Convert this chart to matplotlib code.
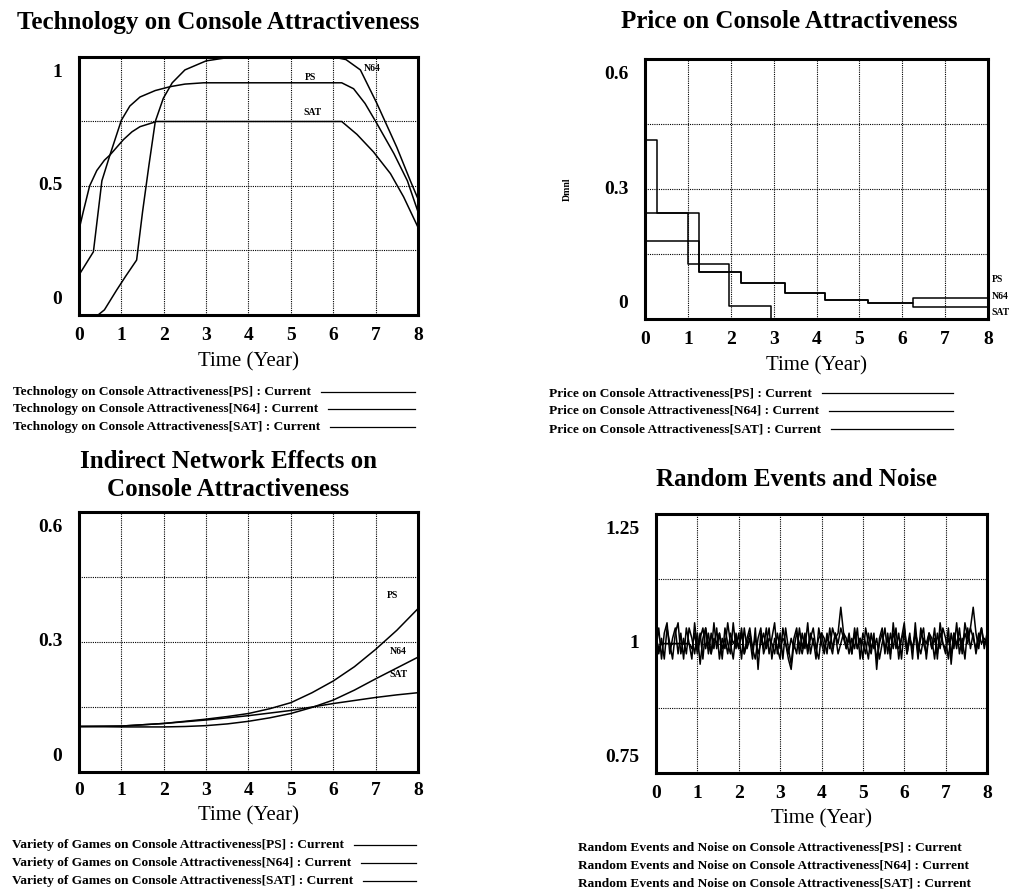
import matplotlib
matplotlib.use("Agg")
import matplotlib.pyplot as plt
from matplotlib.lines import Line2D
import numpy as np

# ---- data ------------------------------------------------------------------
series_names = ["PS", "N64", "SAT"]
years = list(range(9))

# Technology on Console Attractiveness
tech_ps_t = [0, 0.34, 0.54, 0.73, 1.0, 1.2, 1.44, 1.8, 2.15, 2.5, 2.94, 6.2, 6.48, 6.75, 7.03, 7.43, 7.75, 8.0]
tech_ps_v = [0.155, 0.245, 0.52, 0.62, 0.755, 0.81, 0.845, 0.87, 0.885, 0.895, 0.9, 0.9, 0.877, 0.82, 0.742, 0.626, 0.52, 0.40]
tech_n64_t = [0, 0.45, 0.6, 0.89, 1.1, 1.36, 1.5, 1.65, 1.8, 1.99, 2.2, 2.5, 3.0, 3.6, 6.0, 6.3, 6.64, 7.03, 7.5, 7.82, 8.0]
tech_n64_v = [0, 0, 0.02, 0.097, 0.15, 0.213, 0.40, 0.58, 0.75, 0.84, 0.9, 0.95, 0.985, 1.0, 1.0, 0.99, 0.95, 0.82, 0.65, 0.52, 0.45]
tech_sat_t = [0, 0.1, 0.25, 0.42, 0.6, 0.73, 1.05, 1.25, 1.44, 1.83, 6.2, 6.56, 6.95, 7.35, 7.66, 8.0]
tech_sat_v = [0.33, 0.4, 0.5, 0.56, 0.6, 0.62, 0.68, 0.71, 0.73, 0.75, 0.75, 0.70, 0.632, 0.548, 0.458, 0.34]

# Price on Console Attractiveness (step series)
price_ps_t = [0, 1.0, 1.26, 2.23, 3.26, 4.2, 5.2, 6.26, 8]
price_ps_v = [0.245, 0.18, 0.109, 0.082, 0.061, 0.044, 0.036, 0.048, 0.048]
price_n64_t = [0, 0.28, 1.26, 2.23, 3.26, 4.2, 5.2, 6.26, 8]
price_n64_v = [0.414, 0.245, 0.109, 0.082, 0.061, 0.044, 0.036, 0.028, 0.028]
price_sat_t = [0, 1.0, 1.95, 2.95, 8]
price_sat_v = [0.18, 0.128, 0.03, 0.0, 0.0]

# Indirect Network Effects on Console Attractiveness
net_t = [0, 1, 2, 2.5, 3, 3.5, 4, 4.5, 5, 5.5, 6, 6.5, 7, 7.5, 8]
net_ps = [0.105, 0.106, 0.112, 0.117, 0.122, 0.128, 0.135, 0.146, 0.160, 0.183, 0.210, 0.243, 0.283, 0.327, 0.377]
net_n64 = [0.105, 0.104, 0.104, 0.105, 0.107, 0.111, 0.117, 0.125, 0.135, 0.149, 0.166, 0.189, 0.215, 0.240, 0.265]
net_sat = [0.105, 0.106, 0.112, 0.116, 0.120, 0.125, 0.130, 0.136, 0.142, 0.150, 0.158, 0.165, 0.172, 0.178, 0.183]

# Random Events and Noise (one value every 1/15 year)
noise_t = np.linspace(0, 8, 121)
noise_ps = [0.99, 1.03, 0.97, 1.02, 1.04, 0.98, 1.01, 1.03, 0.98, 1.02,
            0.97, 1.03, 1.00, 0.97, 1.04, 0.99, 1.02, 0.97, 1.03, 1.00,
            0.98, 1.04, 0.99, 1.02, 0.97, 1.03, 1.00, 0.98, 1.04, 0.99,
            1.02, 0.97, 1.03, 0.99, 1.01, 0.97, 1.03, 0.95, 1.02, 0.99,
            1.03, 0.98, 1.01, 1.04, 0.98, 1.02, 0.97, 1.03, 0.99, 0.96,
            1.01, 1.03, 0.98, 1.02, 0.99, 1.04, 0.98, 1.01, 0.97, 1.03,
            1.00, 0.98, 1.02, 0.99, 1.03, 1.01, 1.02, 1.07, 1.02, 0.99,
            1.02, 0.98, 1.03, 0.99, 1.01, 0.97, 1.03, 1.00, 0.98, 1.02,
            0.95, 1.01, 1.03, 0.98, 1.02, 0.97, 1.04, 0.99, 1.02, 0.97,
            1.03, 0.99, 1.02, 0.97, 1.04, 0.98, 1.01, 1.03, 0.97, 1.02,
            0.99, 1.03, 0.97, 1.04, 1.00, 0.98, 1.03, 0.96, 1.02, 0.99,
            1.03, 0.98, 1.04, 1.01, 1.03, 1.07, 1.02, 0.99, 1.03, 1.00,
            1.01]
noise_n64 = [1.02, 0.98, 1.01, 0.97, 1.03, 1.00, 0.97, 1.02, 1.04, 0.98,
             1.01, 0.98, 1.03, 1.01, 0.98, 1.02, 0.96, 1.01, 1.03, 0.98,
             1.02, 0.99, 1.03, 0.97, 1.01, 0.99, 1.04, 1.00, 0.97, 1.02,
             0.99, 1.03, 0.98, 1.01, 1.03, 0.99, 0.97, 1.01, 1.03, 0.98,
             1.00, 1.03, 0.97, 1.01, 0.99, 0.97, 1.03, 1.00, 0.97, 0.95,
             1.00, 0.98, 1.03, 0.99, 1.02, 0.98, 1.01, 1.03, 0.99, 0.97,
             1.02, 1.01, 0.98, 1.03, 0.99, 1.02, 0.98, 1.00, 1.02, 1.01,
             0.98, 1.01, 0.99, 1.03, 0.97, 1.02, 1.00, 0.97, 1.02, 0.99,
             1.01, 0.97, 1.00, 1.03, 0.98, 1.02, 0.99, 1.03, 0.97, 1.01,
             1.04, 0.98, 1.01, 0.99, 1.02, 0.97, 1.03, 1.00, 0.98, 1.02,
             1.01, 0.97, 1.02, 0.99, 1.03, 1.01, 0.97, 1.02, 0.99, 1.04,
             0.98, 1.01, 0.97, 1.03, 0.99, 1.02, 0.98, 1.01, 1.03, 0.99,
             1.02]
noise_sat = [1.01, 0.99, 1.00, 1.00, 1.00, 1.00, 1.00, 1.00, 1.00, 1.00,
             1.00, 1.00, 1.00, 0.99, 1.02, 0.98, 1.01, 1.03, 0.99, 1.02,
             0.98, 1.01, 1.00, 1.02, 0.99, 1.01, 0.98, 1.02, 1.00, 1.01,
             0.99, 1.02, 0.98, 1.00, 1.02, 0.99, 1.01, 0.98, 1.00, 1.02,
             0.99, 1.01, 1.00, 0.98, 1.02, 0.99, 1.01, 1.00, 0.98, 1.01,
             0.99, 1.02, 1.00, 0.98, 1.01, 0.99, 1.02, 1.00, 0.99, 1.01,
             1.02, 0.99, 1.01, 1.00, 0.98, 1.02, 1.00, 1.03, 1.01, 0.99,
             1.01, 0.98, 1.02, 0.99, 1.01, 1.00, 0.98, 1.02, 0.99, 1.01,
             0.97, 1.00, 1.02, 0.99, 1.01, 0.98, 1.02, 1.00, 0.99, 1.01,
             1.02, 0.98, 1.01, 0.99, 1.02, 1.00, 0.98, 1.01, 1.00, 1.02,
             0.99, 1.01, 0.98, 1.02, 1.00, 0.99, 1.01, 0.98, 1.02, 1.00,
             1.01, 0.99, 1.02, 1.00, 1.03, 1.01, 0.99, 1.02, 1.00, 1.01,
             1.00]

tech_legend = ["Technology on Console Attractiveness[%s] : Current" % s for s in series_names]
price_legend = ["Price on Console Attractiveness[%s] : Current" % s for s in series_names]
variety_legend = ["Variety of Games on Console Attractiveness[%s] : Current" % s for s in series_names]
random_legend = ["Random Events and Noise on Console Attractiveness[%s] : Current" % s for s in series_names]

# ---- figure ----------------------------------------------------------------
W, H = 1016, 890
plt.rcParams["font.family"] = ["Liberation Serif", "DejaVu Serif"]
fig = plt.figure(figsize=(W / 100, H / 100), dpi=100)
renderer = fig.canvas.get_renderer()


def fx(px):
    return px / W


def fy(py):
    return 1 - py / H


def panel(l, t, r, b, ymin, ymax, ylabels, xpad, xlabel_y):
    ax = fig.add_axes([fx(l), fy(b), fx(r) - fx(l), (b - t) / H])
    ax.set_xlim(0, 8)
    ax.set_ylim(ymin, ymax)
    ax.set_xticks(years)
    ax.set_xticklabels([str(y) for y in years], fontsize=14, fontweight="bold")
    ax.set_yticks(np.linspace(ymin, ymax, 5))
    ax.set_yticklabels([])
    ax.tick_params(length=0)
    ax.tick_params(axis="x", pad=xpad)
    ax.grid(True, color="black", lw=0.8, linestyle=(0, (1, 1)))
    for sp in ax.spines.values():
        sp.set_linewidth(2.2)
    # y labels: top and bottom nudged inwards as in the original
    for val, txt, dy in zip([ymin, (ymin + ymax) / 2, ymax], ylabels, [11, 0, -11]):
        ax.annotate(txt, xy=(0, val), xycoords=("axes fraction", "data"),
                    xytext=(-12, dy), textcoords="offset points",
                    ha="right", va="center", fontsize=14, fontweight="bold")
    ax.set_xlabel("Time (Year)", fontsize=15)
    ax.xaxis.set_label_coords(0.5, xlabel_y)
    return ax


def legend_rows(x, rows_y, texts, line_end=None):
    for y, txt in zip(rows_y, texts):
        t = fig.text(fx(x), fy(y), txt, fontsize=9.6, fontweight="bold", va="center", ha="left")
        if line_end is not None:
            x0 = t.get_window_extent(renderer).x1 + 10
            fig.add_artist(Line2D([x0 / W, fx(line_end)], [fy(y), fy(y)],
                                  transform=fig.transFigure, color="black", lw=0.9))


lw = 1.1
title_kw = dict(fontsize=18, fontweight="bold", ha="center", va="center")
tag_kw = dict(fontsize=7, fontweight="bold", ha="center", va="center")

# Technology
ax1 = panel(79, 57, 418, 315, 0, 1, ["0", "0.5", "1"], 9, -0.145)
ax1.plot(tech_ps_t, tech_ps_v, color="black", lw=lw)
ax1.plot(tech_n64_t, tech_n64_v, color="black", lw=lw)
ax1.plot(tech_sat_t, tech_sat_v, color="black", lw=lw)
ax1.text(5.45, 0.922, "PS", **tag_kw)
ax1.text(5.52, 0.783, "SAT", **tag_kw)
ax1.text(6.91, 0.957, "N64", **tag_kw)
fig.text(fx(218), fy(22), "Technology on Console Attractiveness", **title_kw)
legend_rows(13, [392, 409, 427], tech_legend, 415)

# Price
ax2 = panel(645, 59, 988, 319, 0, 0.6, ["0", "0.3", "0.6"], 9, -0.145)
ax2.step(price_ps_t, price_ps_v, where="post", color="black", lw=lw)
ax2.step(price_n64_t, price_n64_v, where="post", color="black", lw=lw)
ax2.step(price_sat_t, price_sat_v, where="post", color="black", lw=lw, clip_on=False)
for name, yv in zip(series_names, [0.09, 0.051, 0.014]):
    ax2.text(8.08, yv, name, fontsize=7, fontweight="bold", ha="left", va="center")
ax2.text(-0.227, 0.5, "Dmnl", transform=ax2.transAxes, rotation=90, fontsize=7,
         fontweight="bold", ha="center", va="center")
fig.text(fx(789), fy(22), "Price on Console Attractiveness", **title_kw)
legend_rows(549, [393, 411, 429], price_legend, 953)

# Indirect network effects
ax3 = panel(79, 512, 418, 772, 0, 0.6, ["0", "0.3", "0.6"], 7, -0.13)
ax3.plot(net_t, net_ps, color="black", lw=lw)
ax3.plot(net_t, net_n64, color="black", lw=lw)
ax3.plot(net_t, net_sat, color="black", lw=lw)
ax3.text(7.39, 0.408, "PS", **tag_kw)
ax3.text(7.53, 0.279, "N64", **tag_kw)
ax3.text(7.53, 0.224, "SAT", **tag_kw)
fig.text(fx(228), fy(462), "Indirect Network Effects on", **title_kw)
fig.text(fx(228), fy(490), "Console Attractiveness", **title_kw)
legend_rows(12, [845, 863, 881], variety_legend, 416)

# Random events and noise
ax4 = panel(656, 514, 987, 773, 0.75, 1.25, ["0.75", "1", "1.25"], 9, -0.14)
ax4.plot(noise_t, noise_ps, color="black", lw=lw)
ax4.plot(noise_t, noise_n64, color="black", lw=lw)
ax4.plot(noise_t, noise_sat, color="black", lw=lw)
fig.text(fx(797), fy(480), "Random Events and Noise", **title_kw)
legend_rows(578, [847, 865, 883], random_legend)

fig.savefig("out.png", dpi=100, facecolor="white")
